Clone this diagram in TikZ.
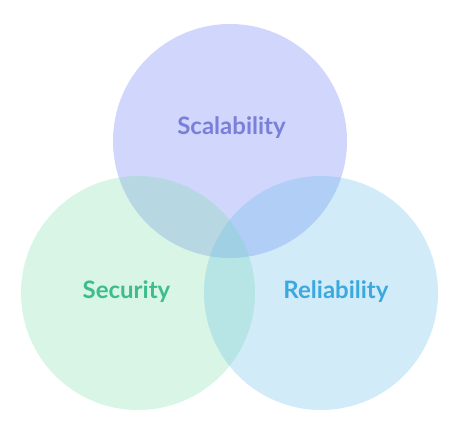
\documentclass[tikz,border=0pt]{standalone}
\usepackage{fontspec}
\setmainfont{Lato}
\usepackage{xcolor}
\usepackage{tikz}

\definecolor{scalefill}{RGB}{102,119,245}
\definecolor{securfill}{RGB}{125,222,168}
\definecolor{reliafill}{RGB}{107,189,232}
\definecolor{scaletext}{RGB}{122,127,216}
\definecolor{securtext}{RGB}{61,189,138}
\definecolor{reliatext}{RGB}{58,169,224}

\begin{document}
\begin{tikzpicture}[x=1pt, y=1pt,
  set/.style={circle, minimum size=234pt, inner sep=0pt, fill opacity=0.3},
  lbl/.style={font=\fontsize{24}{28}\selectfont\bfseries}]
\useasboundingbox (0,0) rectangle (474,432);
% the three sets
\node[set, fill=scalefill] (scal) at (230,291) {};
\node[set, fill=securfill] (secu) at (138,139) {};
\node[set, fill=reliafill] (reli) at (321,139) {};
% labels
\node[lbl, text=scaletext] (tscal) at (231.5,304) {Scalability};
\node[lbl, text=securtext] (tsecu) at (126.5,140) {Security};
\node[lbl, text=reliatext] (treli) at (336,140) {Reliability};
\end{tikzpicture}
\end{document}
